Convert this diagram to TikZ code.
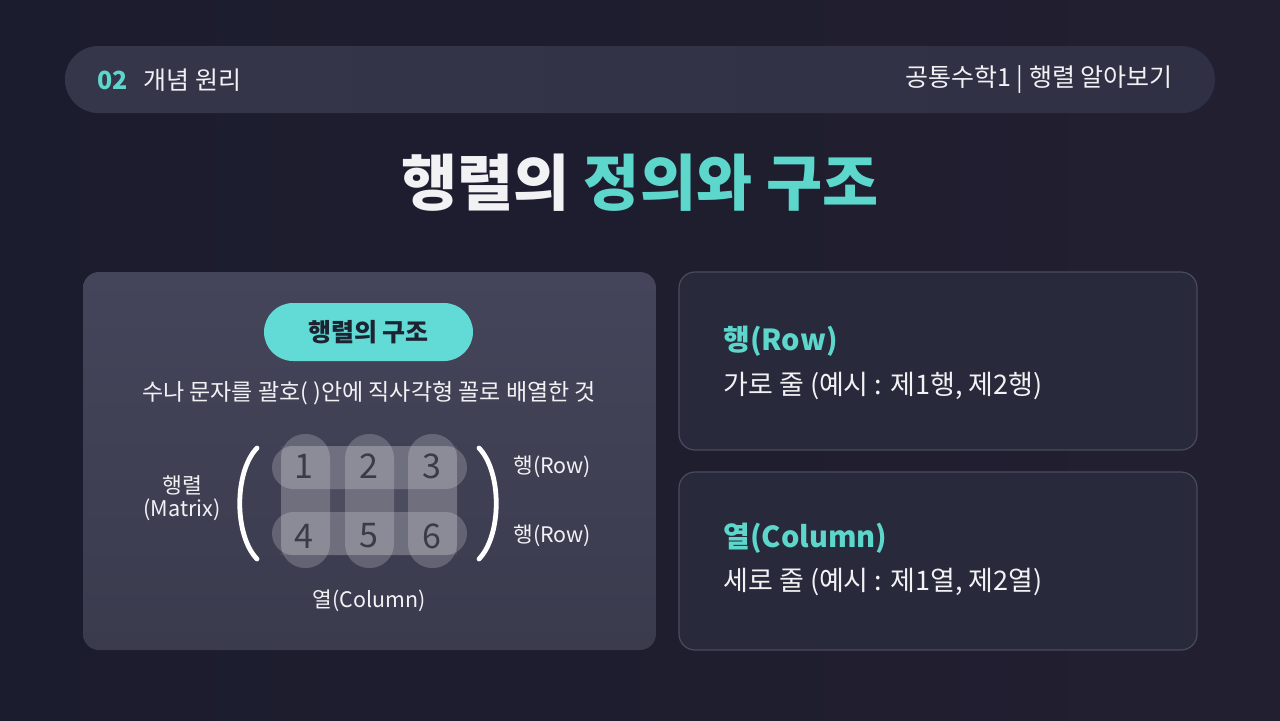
\documentclass[tikz,border=0pt]{standalone}
\usepackage{fontspec}
\setmainfont{Noto Sans CJK KR}
\newcommand\fsz[1]{\fontsize{#1}{#1}\selectfont}
\definecolor{bgA}{HTML}{1B1C2E}
\definecolor{bgB}{HTML}{221F30}
\definecolor{hdr}{HTML}{2F3044}
\definecolor{hdrL}{HTML}{35364A}
\definecolor{panelT}{HTML}{44455A}
\definecolor{panelB}{HTML}{3A3B4D}
\definecolor{card}{HTML}{28293B}
\definecolor{cardline}{HTML}{4A4B5F}
\definecolor{teal}{HTML}{5DD6CC}
\definecolor{pill}{HTML}{62DAD5}
\definecolor{pilltext}{HTML}{1E2332}
\definecolor{numc}{HTML}{3A3B48}
\definecolor{txt}{HTML}{F2F2F5}
\tikzset{
  lbl/.style={inner sep=0pt, text=txt},
  cardbox/.style={fill=card, draw=cardline, line width=0.6pt, rounded corners=8pt},
  cellpill/.style={fill=white, fill opacity=0.2, draw=none},
  num/.style={inner sep=0pt, text=numc, font=\fsz{17pt}},
  paren/.style={draw=white, line width=2.4pt, line cap=round},
}
\begin{document}
\begin{tikzpicture}[x=0.5pt,y=-0.5pt]
\useasboundingbox (0,0) rectangle (1280,720);
% background
\shade[left color=bgA, right color=bgB] (0,0) rectangle (1280,720);
% header pill
\shade[left color=hdrL, right color=hdr, rounded corners=16.75pt] (65,46) rectangle (1215,113);
\node[lbl, anchor=west, text=teal, font=\fsz{12.5pt}\bfseries] (num02) at (97,80) {02};
\node[lbl, anchor=west, font=\fsz{12.5pt}] (sect) at (143,80) {개념 원리};
\node[lbl, anchor=east, font=\fsz{12.5pt}] (course) at (1173,80) {공통수학1 | 행렬 알아보기};
% title
\node[lbl, font=\fsz{30.5pt}\bfseries] (title) at (640,183) {행렬의 \textcolor{teal}{정의와 구조}};
% left panel
\shade[top color=panelT, bottom color=panelB, rounded corners=8pt] (83,272) rectangle (656,650);
\fill[pill, rounded corners=14.5pt] (264,303) rectangle (473,361);
\node[lbl, text=pilltext, font=\fsz{12.5pt}\bfseries] (pilltxt) at (368.5,332) {행렬의 구조};
\node[lbl, font=\fsz{11.5pt}] (desc) at (369,393) {수나 문자를 괄호( )안에 직사각형 꼴로 배열한 것};
% matrix overlays
\fill[white, fill opacity=0.07] (281,446) rectangle (457,555);
\foreach \cx in {305.5,369.5,432.5}{
  \fill[cellpill, rounded corners=12pt] (\cx-24.5,434) rectangle (\cx+24.5,568);
}
\foreach \ry in {446,512}{
  \fill[cellpill, rounded corners=10.75pt] (272,\ry) rectangle (467,\ry+43);
}
\node[num] (m1) at (304,466) {1};
\node[num] (m2) at (369,466) {2};
\node[num] (m3) at (432,466) {3};
\node[num] (m4) at (304,536) {4};
\node[num] (m5) at (369,536) {5};
\node[num] (m6) at (432,536) {6};
% parentheses
\coordinate (lpT) at (257,448);
\coordinate (lpB) at (257,559);
\coordinate (rpT) at (479,448);
\coordinate (rpB) at (479,559);
\draw[paren] (lpT) .. controls (234,472) and (234,535) .. (lpB);
\draw[paren] (rpT) .. controls (502,472) and (502,535) .. (rpB);
% matrix labels
\node[lbl, font=\fsz{10.8pt}, align=center] (matlbl) at (182,498) {행렬\\[1pt](Matrix)};
\node[lbl, font=\fsz{10.7pt}, anchor=west] (row1) at (513,467) {행(Row)};
\node[lbl, font=\fsz{10.7pt}, anchor=west] (row2) at (513,536) {행(Row)};
\node[lbl, font=\fsz{10.7pt}] (collbl) at (369,601) {열(Column)};
% right cards
\draw[cardbox] (679,272) rectangle (1197,450);
\draw[cardbox] (679,472) rectangle (1197,650);
\node[lbl, anchor=west, text=teal, font=\fsz{14.5pt}\bfseries] (rowh) at (723,341) {행(Row)};
\node[lbl, anchor=west, font=\fsz{13.5pt}] (rowd) at (723,386) {가로 줄 (예시 : 제1행, 제2행)};
\node[lbl, anchor=west, text=teal, font=\fsz{14.5pt}\bfseries] (colh) at (723,538) {열(Column)};
\node[lbl, anchor=west, font=\fsz{13.5pt}] (cold) at (723,582) {세로 줄 (예시 : 제1열, 제2열)};
\end{tikzpicture}
\end{document}
